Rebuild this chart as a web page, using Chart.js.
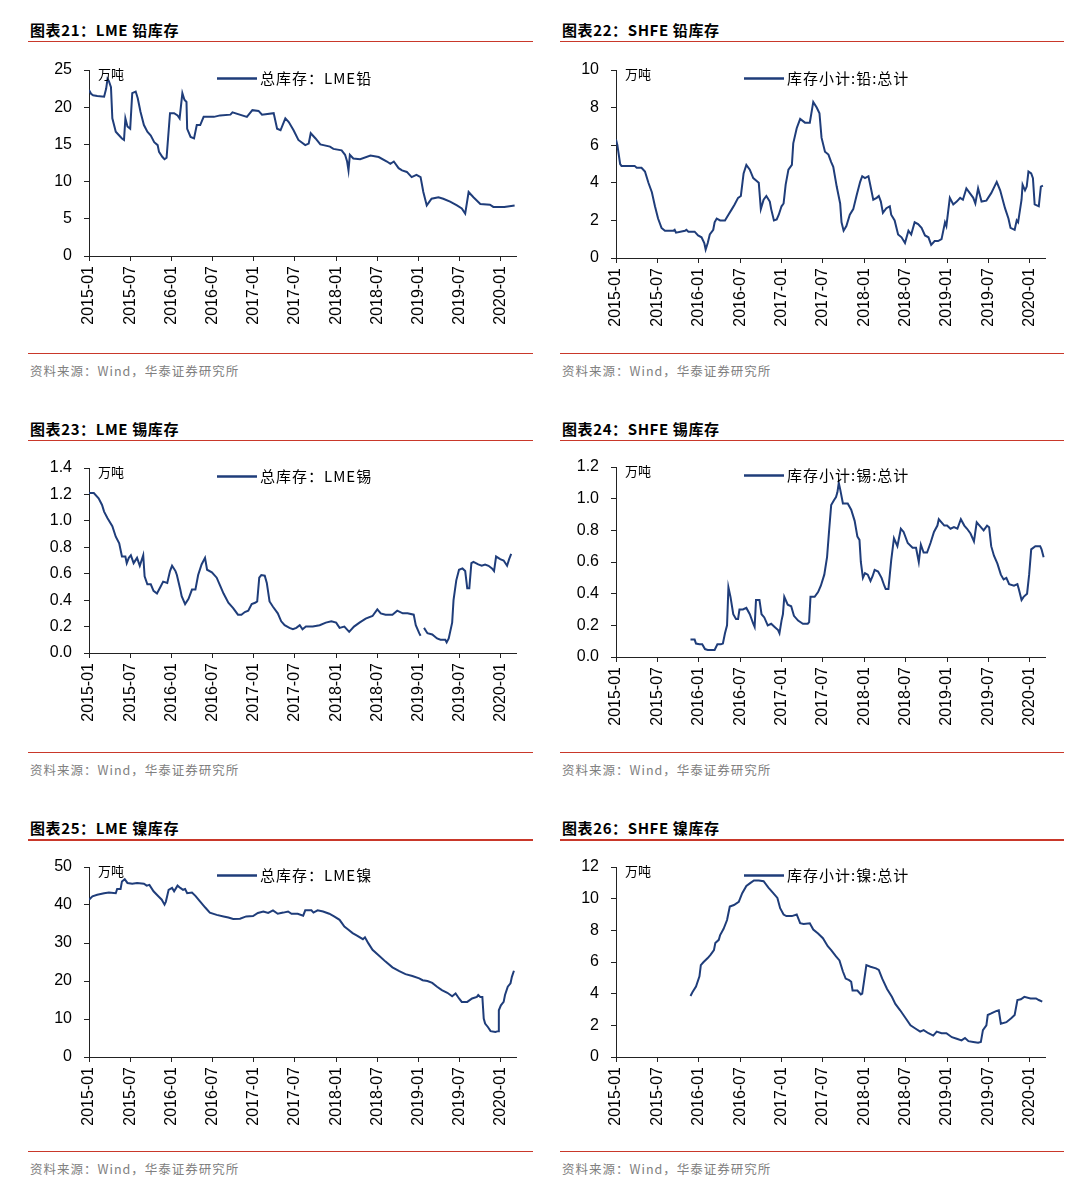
<!DOCTYPE html>
<html>
<head>
<meta charset="utf-8">
<script src="https://cdn.jsdelivr.net/npm/chart.js@4"></script>
<style>
  html,body{margin:0;padding:0;background:#fff;}
  body{width:1080px;height:1197px;position:relative;overflow:hidden;}
  .title{position:absolute;font-family:"Noto Sans CJK SC","Liberation Sans",sans-serif;font-weight:bold;font-size:15px;line-height:16px;color:#000;white-space:nowrap;letter-spacing:0.6px;}
  .rule{position:absolute;height:1.5px;background:#c9382a;}
  .src{position:absolute;font-family:"Noto Sans CJK SC","Liberation Sans",sans-serif;font-size:12.5px;line-height:14px;color:#808080;white-space:nowrap;letter-spacing:1px;}
  canvas{position:absolute;}
</style>
</head>
<body>
<script>
// ---------------- data ----------------
const xTickMonths = [0, 6, 12, 18, 24, 30, 36, 42, 48, 54, 60];
const xTickLabels = ['2015-01','2015-07','2016-01','2016-07','2017-01','2017-07','2018-01','2018-07','2019-01','2019-07','2020-01'];

const titles = ['图表21：LME 铅库存','图表22：SHFE 铅库存','图表23：LME 锡库存','图表24：SHFE 锡库存','图表25：LME 镍库存','图表26：SHFE 镍库存'];
const legends = ['总库存：LME铅','库存小计:铅:总计','总库存：LME锡','库存小计:锡:总计','总库存：LME镍','库存小计:镍:总计'];
const unitLabel = '万吨';
const sourceLabel = '资料来源：Wind，华泰证券研究所';

// months since 2015-01
const lmeLeadT = [0,0.3,0.6,1.2,2.2,2.5,2.7,2.9,3.2,3.4,3.9,4.3,4.8,5.1,5.3,5.6,6.0,6.3,6.8,7.1,7.5,8.0,8.5,9.0,9.5,10.0,10.2,10.7,11.0,11.3,11.8,12.4,12.9,13.2,13.6,13.9,14.2,14.3,14.8,15.3,15.7,16.2,16.7,18.2,19.1,20.6,20.9,23.0,23.8,24.7,25.2,26.9,27.4,27.9,28.6,29.1,29.8,30.5,31.5,32.0,32.3,33.0,33.7,35.1,35.6,36.8,37.3,37.6,37.8,38.0,38.5,39.5,41.0,42.2,43.4,43.9,44.4,45.1,45.6,46.3,47.0,47.7,48.3,48.7,49.2,49.9,50.9,51.6,52.6,53.6,54.3,54.8,55.3,56.0,57.0,58.4,58.9,60.5,62.0];
const lmeLeadV = [22.3,21.8,21.6,21.5,21.4,22.5,23.8,23.5,22.7,18.5,16.7,16.3,15.8,15.6,18.5,17.4,17.1,21.9,22.1,21.2,19.4,17.6,16.7,16.2,15.3,14.9,14.0,13.3,13.0,13.2,19.2,19.2,18.9,18.5,21.9,21.0,20.7,17.1,16.0,15.8,17.6,17.6,18.7,18.7,18.9,19.0,19.3,18.7,19.6,19.5,19.0,19.2,17.1,16.9,18.5,18.0,16.9,15.6,14.9,15.1,16.5,15.8,15.0,14.7,14.4,14.2,13.6,12.7,11.5,13.6,13.1,13.0,13.5,13.3,12.7,12.4,12.7,11.8,11.5,11.3,10.6,10.9,10.6,8.6,6.8,7.7,7.9,7.7,7.3,6.8,6.4,5.7,8.6,7.9,7.0,6.9,6.6,6.6,6.8];

const shfeLeadT = [0,0.2,0.6,0.8,2.7,3.0,3.7,4.2,4.7,5.2,5.65,6.1,6.6,7.1,8.3,8.5,8.7,10.0,10.2,10.5,11.4,11.9,12.4,12.8,13.0,13.3,13.6,14.1,14.3,14.6,15.1,15.8,16.3,16.8,17.2,17.7,18.1,18.5,18.9,19.4,19.9,20.4,20.7,21.0,21.4,21.8,22.3,22.5,22.9,23.3,23.6,24.0,24.3,24.6,25.0,25.5,25.7,26.2,26.7,27.4,28.1,28.6,29.1,29.5,29.8,30.3,30.8,31.2,31.5,32.0,32.5,32.7,33.0,33.4,33.9,34.4,34.9,35.4,35.7,36.1,36.6,36.8,37.3,37.8,38.1,38.4,38.7,39.2,39.7,39.9,40.4,40.9,41.4,41.9,42.4,42.8,43.3,43.8,44.3,44.8,45.3,45.7,46.2,46.7,47.2,47.7,47.9,48.4,48.9,49.4,49.9,50.3,50.8,51.3,51.8,52.1,52.5,53.0,53.7,54.4,55.2,55.7,56.4,56.9,57.2,57.8,58.1,58.3,58.8,58.95,59.3,59.55,59.8,60.2,60.45,60.7,61.3,61.6,61.9];
const shfeLeadV = [6.3,6.0,5.0,4.9,4.9,4.8,4.8,4.6,4.0,3.5,2.75,2.1,1.6,1.45,1.45,1.5,1.35,1.45,1.5,1.4,1.4,1.2,1.1,0.8,0.45,0.8,1.25,1.5,1.9,2.1,2.0,2.0,2.3,2.6,2.85,3.2,3.3,4.5,4.95,4.7,4.25,4.1,4.0,2.6,3.1,3.3,3.0,2.6,2.0,2.05,2.3,2.75,2.9,3.9,4.7,4.95,6.1,6.9,7.4,7.2,7.2,8.3,8.0,7.7,6.4,5.65,5.5,5.1,4.85,3.8,2.9,1.9,1.45,1.7,2.3,2.6,3.35,4.05,4.35,4.25,4.35,4.0,3.1,3.2,3.3,3.0,2.4,2.65,2.75,2.3,2.0,1.25,1.1,0.8,1.45,1.25,1.9,1.8,1.6,1.2,1.1,0.7,0.9,0.9,1.0,1.9,1.7,3.2,2.85,3.0,3.2,3.1,3.7,3.45,3.2,2.9,3.7,3.0,3.05,3.45,4.05,3.6,2.65,2.1,1.6,1.5,2.0,1.9,3.1,3.9,3.6,3.8,4.6,4.5,4.25,2.85,2.75,3.8,3.85];

const lmeTinT = [0,0.7,1.4,1.9,2.2,2.7,3.4,3.9,4.4,4.8,5.3,5.5,5.8,6.1,6.5,7.0,7.4,7.9,8.1,8.5,9.0,9.4,9.9,10.4,10.8,11.4,11.8,12.1,12.6,12.8,13.3,13.5,14.0,14.5,15.0,15.5,15.9,16.4,16.9,17.2,17.9,18.6,19.1,19.6,20.3,21.0,21.7,22.2,22.7,23.2,23.7,24.2,24.5,24.8,25.1,25.6,25.9,26.3,26.8,27.5,28.0,28.5,29.2,29.7,30.2,30.7,31.1,31.6,32.6,33.6,34.5,35.3,36.0,36.5,37.2,37.9,38.6,39.4,40.3,41.3,42.0,42.5,43.2,44.2,44.9,45.7,46.4,47.3,47.6,48.1,48.3,48.5,48.8,49.3,50.0,50.7,51.2,51.9,52.1,52.4,52.9,53.1,53.5,53.9,54.4,54.8,55.1,55.4,55.7,56.0,56.7,57.2,57.7,58.2,58.7,59.0,59.3,59.9,60.4,60.9,61.2,61.5];
const lmeTinV = [1.21,1.21,1.17,1.12,1.07,1.02,0.96,0.88,0.83,0.73,0.73,0.68,0.72,0.74,0.68,0.72,0.66,0.74,0.58,0.52,0.52,0.47,0.45,0.50,0.54,0.53,0.62,0.66,0.62,0.59,0.48,0.43,0.37,0.41,0.48,0.48,0.59,0.67,0.72,0.63,0.61,0.57,0.51,0.45,0.38,0.34,0.29,0.29,0.31,0.32,0.37,0.38,0.39,0.57,0.59,0.585,0.53,0.39,0.35,0.30,0.24,0.21,0.19,0.18,0.19,0.21,0.18,0.20,0.20,0.21,0.23,0.24,0.23,0.19,0.20,0.16,0.20,0.23,0.26,0.28,0.33,0.30,0.29,0.29,0.32,0.30,0.30,0.29,0.21,0.15,0.13,null,0.19,0.15,0.14,0.11,0.10,0.10,0.08,0.11,0.23,0.40,0.55,0.63,0.64,0.62,0.49,0.49,0.68,0.69,0.67,0.66,0.67,0.66,0.64,0.62,0.73,0.71,0.70,0.66,0.71,0.75];

const shfeTinT = [10.8,11.4,11.6,12.1,12.5,12.9,13.3,14.3,14.7,15.2,15.5,15.8,16.1,16.3,16.6,17.0,17.4,17.7,17.9,18.4,18.9,19.4,19.9,20.1,20.3,20.8,21.1,21.5,22.0,22.5,23.0,23.5,23.7,24.0,24.2,24.4,24.9,25.4,25.8,26.4,27.1,27.8,28.0,28.2,28.8,29.3,29.7,30.2,30.6,30.9,31.2,31.6,31.9,32.1,32.3,32.5,32.9,33.6,34.1,34.6,35.0,35.3,35.5,35.8,36.1,36.5,36.9,37.2,37.5,38.0,38.5,38.9,39.1,39.5,39.9,40.3,40.8,41.3,41.7,42.3,43.0,43.5,43.9,44.2,44.6,45.1,45.6,46.1,46.6,46.8,47.6,48.0,48.5,49.0,49.5,50.0,50.5,50.9,51.4,51.9,52.3,52.9,53.3,53.8,54.1,54.4,54.8,55.3,55.8,56.2,56.6,57.0,57.7,58.2,58.4,58.8,59.1,59.6,59.9,60.2,60.8,61.5,61.7,62.0];
const shfeTinV = [0.11,0.11,0.085,0.08,0.08,0.05,0.045,0.045,0.08,0.08,0.085,0.15,0.20,0.44,0.38,0.27,0.24,0.24,0.30,0.30,0.31,0.27,0.21,0.19,0.36,0.36,0.27,0.25,0.20,0.21,0.19,0.17,0.15,0.23,0.27,0.38,0.33,0.32,0.26,0.23,0.21,0.21,0.22,0.38,0.38,0.41,0.45,0.52,0.63,0.80,0.96,0.99,1.01,1.04,1.10,1.06,0.97,0.97,0.93,0.86,0.76,0.74,0.60,0.50,0.53,0.52,0.48,0.51,0.55,0.54,0.50,0.45,0.43,0.43,0.61,0.75,0.70,0.81,0.79,0.72,0.69,0.69,0.60,0.71,0.66,0.66,0.72,0.79,0.83,0.87,0.83,0.83,0.81,0.82,0.81,0.87,0.83,0.81,0.78,0.73,0.85,0.82,0.80,0.83,0.82,0.70,0.64,0.59,0.52,0.49,0.50,0.46,0.45,0.46,0.43,0.36,0.38,0.40,0.52,0.68,0.70,0.70,0.68,0.63];

const lmeNiT = [0,0.5,1.2,2.2,2.9,3.9,4.1,4.6,4.8,5.2,5.6,6.3,7.0,8.0,8.4,8.8,9.4,10.1,10.6,11.0,11.2,11.6,12.1,12.4,12.9,13.3,13.7,14.0,14.3,15.0,15.5,16.2,16.9,17.6,18.6,19.6,20.3,21.0,22.0,22.9,23.9,24.6,25.4,26.1,26.8,27.5,28.3,29.0,29.5,30.4,31.2,31.5,32.4,32.7,33.3,34.1,35.0,35.7,36.5,37.2,37.7,38.4,39.1,39.9,40.2,40.7,41.3,42.3,43.2,44.2,45.2,46.1,47.1,48.1,48.6,49.3,50.0,50.7,51.4,52.2,52.9,53.4,53.9,54.3,55.1,55.8,56.5,56.7,57.0,57.3,57.5,57.7,58.1,58.5,59.2,59.6,59.7,60.0,60.4,60.6,61.0,61.4,61.6,61.9];
const lmeNiV = [41.4,42.3,42.7,43.1,43.3,43.1,44.2,44.2,46.2,46.8,45.8,45.6,45.8,45.6,45.1,45.3,43.6,42.3,41.4,40.1,40.9,44.0,44.5,43.6,45.1,44.5,44.0,44.2,43.1,43.3,42.4,40.9,39.4,38.0,37.4,37.0,36.7,36.3,36.4,37.0,37.1,37.9,38.3,37.9,38.6,37.7,38.0,38.3,37.7,37.7,37.2,38.6,38.6,38.0,38.6,38.3,37.7,37.0,36.1,34.3,33.6,32.6,31.9,31.0,31.5,29.9,28.2,26.6,25.1,23.6,22.6,21.8,21.3,20.7,20.2,20.0,19.5,18.5,17.6,16.9,16.0,16.7,15.4,14.5,14.5,15.4,15.8,16.3,15.8,15.8,10.1,8.8,7.9,6.8,6.6,6.8,12.3,13.6,14.5,16.3,18.5,19.4,21.1,22.7];

const shfeNiT = [10.8,11.1,11.6,12.1,12.3,12.7,13.3,13.7,14.2,14.4,14.9,15.1,15.6,16.1,16.5,17.1,17.8,18.3,18.9,19.5,20.0,20.7,21.4,22.1,22.8,23.4,23.8,24.3,24.7,25.5,26.2,26.7,27.2,28.1,28.6,29.3,30.0,30.7,31.2,31.9,32.4,32.9,33.3,33.8,34.1,34.3,35.0,35.5,35.7,36.3,36.9,37.7,38.1,38.6,39.3,40.0,40.5,41.2,42.0,42.7,43.4,44.1,44.6,45.3,46.0,46.5,47.2,47.9,48.7,49.4,50.1,50.6,51.1,51.8,52.5,52.9,53.2,53.7,53.9,54.4,55.1,55.5,55.8,56.6,57.3,57.8,58.2,58.7,59.2,60.1,60.9,61.3,61.8];
const shfeNiV = [3.85,4.1,4.45,5.1,5.8,6.0,6.25,6.45,6.75,7.2,7.4,7.7,8.1,8.65,9.5,9.6,9.8,10.35,10.8,11.0,11.15,11.15,11.1,10.7,10.35,10.05,9.4,9.0,8.9,8.9,9.0,8.45,8.4,8.45,8.05,7.8,7.5,7.0,6.75,6.35,6.1,5.4,4.95,4.85,4.75,4.2,4.2,3.95,4.0,5.8,5.7,5.6,5.5,4.95,4.3,3.8,3.35,2.95,2.45,2.0,1.8,1.6,1.7,1.5,1.35,1.6,1.5,1.5,1.25,1.15,1.05,1.2,1.0,0.95,0.9,0.95,1.7,2.0,2.65,2.75,2.9,2.95,2.1,2.2,2.45,2.65,3.6,3.65,3.8,3.7,3.7,3.6,3.5];

// ---------------- layout ----------------
const LINE_COLOR = '#1f3d7a';
const X_MAX = 62.2;
const cols = [
  {canvasLeft: 0, yAxisW: 89, padRight: 24, textLeft: 30, ruleLeft: 28, ruleW: 505},
  {canvasLeft: 540, yAxisW: 76, padRight: 35, textLeft: 562, ruleLeft: 560, ruleW: 504}
];
const rows = [
  {titleTop: 22, rule1: 40.5, rule2: 352.5, srcTop: 364},
  {titleTop: 421, rule1: 439.5, rule2: 751.5, srcTop: 763},
  {titleTop: 820, rule1: 839, rule2: 1150.5, srcTop: 1162}
];
const panels = [
  {t: lmeLeadT,  v: lmeLeadV,  yMax: 25,  yStep: 5,   dec: 0, col: 0, row: 0, top: 70,  bottom: 256},
  {t: shfeLeadT, v: shfeLeadV, yMax: 10,  yStep: 2,   dec: 0, col: 1, row: 0, top: 70,  bottom: 258},
  {t: lmeTinT,   v: lmeTinV,   yMax: 1.4, yStep: 0.2, dec: 1, col: 0, row: 1, top: 468, bottom: 653},
  {t: shfeTinT,  v: shfeTinV,  yMax: 1.2, yStep: 0.2, dec: 1, col: 1, row: 1, top: 467, bottom: 657},
  {t: lmeNiT,    v: lmeNiV,    yMax: 50,  yStep: 10,  dec: 0, col: 0, row: 2, top: 867, bottom: 1057},
  {t: shfeNiT,   v: shfeNiV,   yMax: 12,  yStep: 2,   dec: 0, col: 1, row: 2, top: 867, bottom: 1057}
];

const PAD_TOP = 15, X_AXIS_H = 80;

function addDiv(cls, text, left, top, width) {
  const d = document.createElement('div');
  d.className = cls;
  if (text) d.textContent = text;
  d.style.left = left + 'px';
  d.style.top = top + 'px';
  if (width) d.style.width = width + 'px';
  document.body.appendChild(d);
}

const overlayPlugin = {
  id: 'overlay',
  afterDraw(chart, args, opts) {
    const {ctx, chartArea} = chart;
    ctx.save();
    ctx.fillStyle = '#000';
    ctx.textBaseline = 'middle';
    ctx.textAlign = 'left';
    ctx.font = '13px "Noto Sans CJK SC"';
    ctx.fillText(opts.unit, chartArea.left + 9, chartArea.top + 4);
    const ly = chartArea.top + 8.5;
    const lx = chartArea.left + 128;
    ctx.strokeStyle = LINE_COLOR;
    ctx.lineWidth = 2.5;
    ctx.beginPath();
    ctx.moveTo(lx, ly);
    ctx.lineTo(lx + 40, ly);
    ctx.stroke();
    ctx.font = '15px "Noto Sans CJK SC"';
    try { ctx.letterSpacing = '1px'; } catch (e) {}
    ctx.fillText(opts.legend, lx + 43, ly);
    ctx.restore();
  }
};

Chart.defaults.font.family = '"Liberation Sans", Arial, sans-serif';
Chart.defaults.color = '#000';

panels.forEach((p, i) => {
  const c = cols[p.col], r = rows[p.row];
  addDiv('title', titles[i], c.textLeft, r.titleTop);
  addDiv('rule', '', c.ruleLeft, r.rule1, c.ruleW);
  addDiv('rule', '', c.ruleLeft, r.rule2, c.ruleW);
  addDiv('src', sourceLabel, c.textLeft, r.srcTop);

  const cv = document.createElement('canvas');
  const h = (p.bottom - p.top) + PAD_TOP + X_AXIS_H;
  cv.width = 540; cv.height = h;
  cv.style.left = c.canvasLeft + 'px';
  cv.style.top = (p.top - PAD_TOP) + 'px';
  cv.style.width = '540px'; cv.style.height = h + 'px';
  document.body.appendChild(cv);

  const pts = p.t.map((t, k) => ({x: t, y: p.v[k]}));
  new Chart(cv, {
    type: 'line',
    data: {datasets: [{label: legends[i], data: pts, borderColor: LINE_COLOR, borderWidth: 2,
      pointRadius: 0, tension: 0, fill: false, spanGaps: false}]},
    options: {
      responsive: false, animation: false, devicePixelRatio: 1,
      layout: {padding: {top: PAD_TOP, right: c.padRight, left: 0, bottom: 0}},
      plugins: {legend: {display: false}, tooltip: {enabled: false},
        overlay: {unit: unitLabel, legend: legends[i]}},
      scales: {
        x: {
          type: 'linear', min: 0, max: X_MAX,
          afterFit(s) { s.height = X_AXIS_H; s.paddingLeft = 0; s.paddingRight = 0; },
          afterBuildTicks(s) { s.ticks = xTickMonths.map(v => ({value: v})); },
          border: {display: true, color: '#222', width: 1},
          grid: {display: true, drawOnChartArea: false, drawTicks: true, tickLength: 5, color: '#222'},
          ticks: {autoSkip: false, minRotation: 90, maxRotation: 90, padding: 5,
            font: {size: 16}, color: '#000',
            callback: (val, idx) => xTickLabels[idx]}
        },
        y: {
          min: 0, max: p.yMax,
          afterFit(s) { s.width = c.yAxisW; s.paddingTop = 0; s.paddingBottom = 0; },
          border: {display: true, color: '#222', width: 1},
          grid: {display: true, drawOnChartArea: false, drawTicks: true, tickLength: 5, color: '#222'},
          ticks: {stepSize: p.yStep, padding: 12, font: {size: 16}, color: '#000',
            callback: v => Number(v).toFixed(p.dec)}
        }
      }
    },
    plugins: [overlayPlugin]
  });
});
</script>
</body>
</html>
